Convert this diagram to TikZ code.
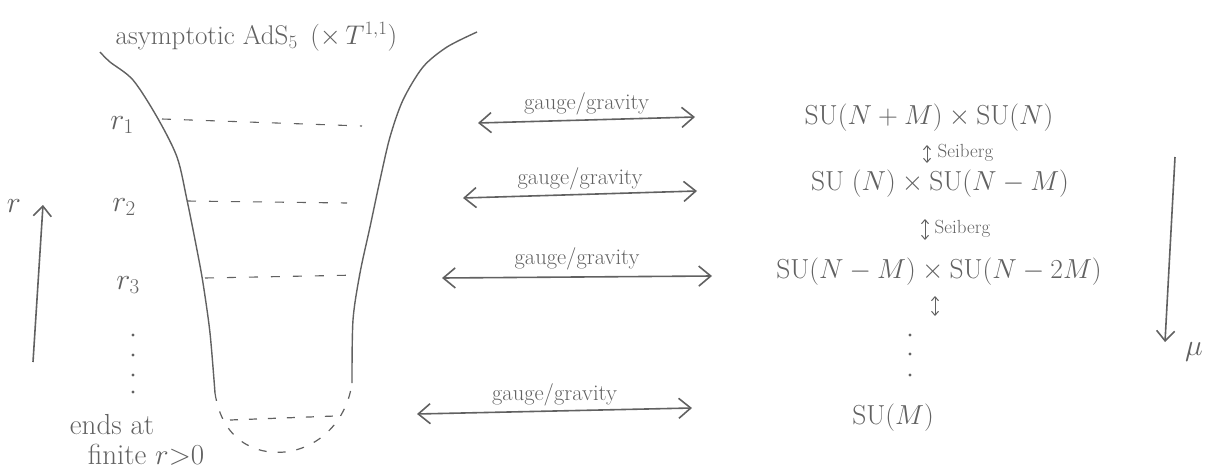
\RequirePackage{fix-cm}
\documentclass[tikz,border=0pt]{standalone}
\usepackage{amsmath,amssymb}
\usetikzlibrary{arrows.meta}
\definecolor{pencil}{gray}{0.38}

\begin{document}
\begin{tikzpicture}[x=1pt,y=-1pt,line width=1.4pt,
  pen/.style={draw=pencil,line width=1.4pt},
  levelline/.style={draw=pencil,line width=1.1pt,dash pattern=on 9pt off 13pt},
  capline/.style={draw=pencil,line width=1.2pt,dash pattern=on 8pt off 11pt},
  dual/.style={draw=pencil,line width=1.6pt,{Straight Barb[length=12pt,width=20pt]}-{Straight Barb[length=12pt,width=20pt]}},
  smalldual/.style={draw=pencil,line width=1pt,{Straight Barb[length=4pt,width=7pt]}-{Straight Barb[length=4pt,width=7pt]}},
  axis/.style={draw=pencil,line width=1.6pt,-{Straight Barb[length=10pt,width=18pt]}},
  hand/.style={text=pencil,inner sep=1pt,anchor=center},
  titlefont/.style={font=\fontsize{27}{32}\selectfont},
  groupfont/.style={font=\fontsize{27.5}{32}\selectfont},
  rfont/.style={font=\fontsize{30}{36}\selectfont},
  notefont/.style={font=\fontsize{29}{34}\selectfont},
  dualfont/.style={font=\fontsize{22.5}{27}\selectfont},
  seibfont/.style={font=\fontsize{19}{22}\selectfont}]
\path[use as bounding box] (0,0) rectangle (1213,469);
\node[hand,titlefont,anchor=west] (title) at (114,37) {asymptotic AdS$_5$\, ($\times\, T^{1,1}$)};
\draw[pen] plot[smooth] coordinates {(100,52) (110,62) (133,80) (157,117) (177,157) (187,200) (197,250) (203,283) (210,333) (215,393)};
\draw[pen] plot[smooth] coordinates {(477,32) (447,47) (423,67) (403,100) (390,137) (380,180) (370,227) (360,273) (353,320) (352,383)};
\draw[levelline] (162,119) -- (362,126);
\draw[levelline] (187,201) -- (347,203);
\draw[levelline] (205,278) -- (360,275);
\draw[capline] (215,393) .. controls (222,440) and (255,455) .. (285,452) .. controls (320,448) and (347,420) .. (352,383);
\draw[capline] (230,420) -- (335,416);
\node[hand,rfont] (r1) at (122,125) {$r_1$};
\node[hand,rfont] (r2) at (124,207) {$r_2$};
\node[hand,rfont] (r3) at (128,285) {$r_3$};
\foreach \y in {335,355,375,392} \fill[pencil] (133,\y) circle (1.6);
\coordinate (rlo) at (33,362);
\coordinate (rhi) at (43,205);
\draw[axis] (rlo) -- (rhi);
\node[hand,rfont] (rlab) at (14,206) {$r$};
\node[hand,notefont] (ends) at (112,425) {ends at};
\node[hand,notefont] (finite) at (146,455) {finite $r{>}0$};
\coordinate (gl1) at (478,123);
\coordinate (gr1) at (695,117);
\coordinate (gl2) at (463,198);
\coordinate (gr2) at (697,191);
\coordinate (gl3) at (442,278);
\coordinate (gr3) at (712,276);
\coordinate (gl4) at (417,414);
\coordinate (gr4) at (692,408);
\draw[dual] (gl1) -- node[hand,dualfont,above=3pt] (gg1) {gauge/gravity} (gr1);
\draw[dual] (gl2) -- node[hand,dualfont,above=3pt] (gg2) {gauge/gravity} (gr2);
\draw[dual] (gl3) -- node[hand,dualfont,above=5pt] (gg3) {gauge/gravity} (gr3);
\draw[dual] (gl4) -- node[hand,dualfont,above=3pt] (gg4) {gauge/gravity} (gr4);
\node[hand,groupfont] (su1) at (929,118) {$\mathrm{SU}(N+M)\times\mathrm{SU}(N)$};
\node[hand,groupfont] (su2) at (940,184) {$\mathrm{SU}\;(N)\times\mathrm{SU}(N-M)$};
\node[hand,groupfont] (su3) at (939,272) {$\mathrm{SU}(N-M)\times\mathrm{SU}(N-2M)$};
\node[hand,groupfont] (su4) at (893,418) {$\mathrm{SU}(M)$};
\coordinate (s1a) at (927,145);
\coordinate (s1b) at (927,163);
\coordinate (s2a) at (925,219);
\coordinate (s2b) at (925,240);
\coordinate (s3a) at (935,296);
\coordinate (s3b) at (935,316);
\draw[smalldual] (s1a) -- (s1b);
\draw[smalldual] (s2a) -- (s2b);
\draw[smalldual] (s3a) -- (s3b);
\node[hand,seibfont,anchor=west] (sb1) at (936,153) {Seiberg};
\node[hand,seibfont,anchor=west] (sb2) at (933,229) {Seiberg};
\foreach \y in {335,354,375} \fill[pencil] (910,\y) circle (1.6);
\coordinate (mhi) at (1175,157);
\coordinate (mlo) at (1165,342);
\draw[axis] (mhi) -- (mlo);
\node[hand,rfont] (mulab) at (1194,352) {$\mu$};
\end{tikzpicture}
\end{document}
